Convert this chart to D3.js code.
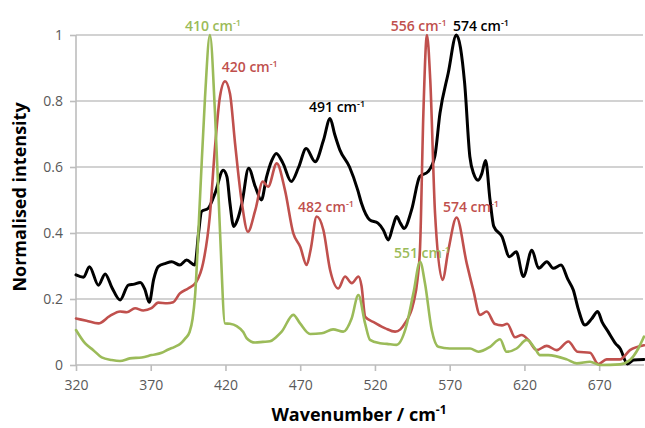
<!DOCTYPE html>
<html>
<head>
<meta charset="utf-8">
<script src="https://cdn.jsdelivr.net/npm/d3@7"></script>
<style>
  html, body { margin: 0; padding: 0; background: #fff; }
  svg { display: block; }
  text { font-family: "Open Sans", "DejaVu Sans", sans-serif; }
</style>
</head>
<body>
<svg id="chart" width="645" height="428"></svg>
<script>
// ---- Data ----
const blackWn = [320,325,329,335,339.5,344,349.5,355,359,363,366,369,372,375,380,384,389.5,394,399.5,402,404,408.5,413,418.5,421,423,425.5,428,431,435.5,440,444,447.5,451,454,458.5,464,469,474,480,485.5,490,493,496.5,503,508.5,511,516.5,522,525.5,529,532,534.5,537,539.5,544.5,550,555.5,560,563.5,569,574.5,580,583.5,586,589,591.5,594,597,599.5,605,610,614.5,619.3,625,629.5,635,639.3,644.5,649,652.7,656,660.5,665,669,672,676,681,684,689,693,700];
const blackVal = [0.273,0.266,0.298,0.242,0.276,0.235,0.197,0.242,0.245,0.25,0.23,0.19,0.26,0.298,0.308,0.313,0.303,0.318,0.303,0.4,0.465,0.475,0.52,0.59,0.57,0.49,0.42,0.44,0.49,0.596,0.54,0.5,0.57,0.62,0.641,0.611,0.556,0.6,0.656,0.616,0.68,0.747,0.7,0.652,0.6,0.53,0.49,0.44,0.43,0.41,0.379,0.42,0.45,0.43,0.414,0.47,0.571,0.586,0.631,0.763,0.884,1.0,0.854,0.631,0.58,0.56,0.58,0.62,0.5,0.42,0.389,0.328,0.343,0.268,0.348,0.293,0.313,0.293,0.303,0.26,0.227,0.17,0.121,0.14,0.162,0.13,0.101,0.065,0.05,0.003,0.015,0.017];

const redWn = [320,327,335,342.5,349.5,354,359.5,365,370.5,375,381,385,389.5,395,400.5,405,409.5,413,416.3,419.7,423,426.4,431,435,440,445,448.5,454.3,459.8,465.4,470,474.3,477,481,485.5,490,495.5,500,504.5,509,511,513.5,520,527,533.5,537,540,545.7,548.5,550.2,552.4,554.8,557,560.2,565.2,569.1,574.6,581.4,585.8,590.3,594.8,600.3,605,608.5,613.7,618.2,622.6,628.2,634.9,641.6,649.4,655.5,663.9,669.4,675,684,690.6,700];
const redVal = [0.141,0.134,0.126,0.148,0.162,0.16,0.172,0.165,0.172,0.189,0.187,0.19,0.217,0.232,0.252,0.308,0.45,0.66,0.813,0.86,0.823,0.672,0.49,0.404,0.47,0.556,0.54,0.611,0.53,0.399,0.358,0.303,0.35,0.45,0.409,0.288,0.232,0.268,0.248,0.268,0.24,0.146,0.128,0.111,0.101,0.108,0.126,0.187,0.26,0.358,0.763,1.0,0.864,0.46,0.258,0.348,0.447,0.308,0.227,0.152,0.162,0.124,0.12,0.125,0.084,0.091,0.076,0.045,0.058,0.045,0.071,0.04,0.037,0.003,0.017,0.017,0.045,0.06];

const greenWn = [320,326,331.6,337.2,343.9,349.4,356,364,370.6,377.3,381.8,386,390,393,396,398,399.6,403,406.3,409.6,413,416.3,419.7,423,427.5,431.9,434.2,439.8,445,449.8,454,457.6,465.4,469.9,476.6,484.4,492,498.8,504.4,508.9,513.4,516.7,523.4,528,534.5,540.5,545.7,550.2,553.5,558,562.4,570,583.6,589.2,597,603.7,608,614.8,621.5,627.1,630.4,636,648.3,655,663.9,670.6,684,690.6,696.2,700];
const greenVal = [0.106,0.066,0.045,0.023,0.015,0.012,0.02,0.023,0.03,0.037,0.047,0.055,0.065,0.08,0.1,0.14,0.207,0.51,0.81,1.0,0.763,0.409,0.126,0.125,0.118,0.1,0.081,0.068,0.07,0.072,0.085,0.101,0.152,0.126,0.094,0.096,0.108,0.101,0.141,0.212,0.126,0.076,0.066,0.064,0.061,0.11,0.217,0.313,0.247,0.106,0.055,0.05,0.05,0.04,0.055,0.078,0.04,0.05,0.076,0.05,0.03,0.03,0.017,0.005,0.01,0,0.002,0.015,0.05,0.086];

const xTicks = [320,370,420,470,520,570,620,670];
const yTicks = [0,0.2,0.4,0.6,0.8,1];
const yTickLabels = ["0","0.2","0.4","0.6","0.8","1"];

// Peak annotations: label number, series, anchor wavenumber & intensity
const labelText   = ["410","420","491","482","556","574","574","551"];
const labelSeries = ["green","red","black","red","red","black","red","green"];
const labelWn     = [392.9,417.5,475.9,468.5,530.5,572.2,565.5,532.7];
const labelVal    = [1.012,0.888,0.767,0.464,1.012,1.012,0.464,0.324];

// ---- Drawing ----
const colors = { black: "#000000", red: "#c0504d", green: "#9bbb59" };
const svg = d3.select("#chart");
const x = d3.scaleLinear().domain([320, 700]).range([76, 644]);
const y = d3.scaleLinear().domain([0, 1]).range([365, 35]);

// gridlines
svg.append("g").selectAll("line").data(yTicks.filter(d => d > 0)).join("line")
  .attr("x1", x(320)).attr("x2", x(700) - 1)
  .attr("y1", d => y(d)).attr("y2", d => y(d))
  .attr("stroke", "#c3c3c3").attr("stroke-width", 1.6);

// y axis
const yAxis = svg.append("g").attr("transform", `translate(${x(320)},0)`)
  .call(d3.axisLeft(y).tickValues(yTicks).tickSize(6).tickPadding(7)
    .tickFormat((d, i) => yTickLabels[i]));
// x axis
const xAxis = svg.append("g").attr("transform", `translate(0,${y(0)})`)
  .call(d3.axisBottom(x).tickValues(xTicks).tickSize(6).tickPadding(9).tickFormat(d3.format("d")));
[yAxis, xAxis].forEach(g => {
  g.select(".domain").attr("stroke", "#bdbdbd").attr("stroke-width", 1.6);
  g.selectAll(".tick line").attr("stroke", "#bdbdbd").attr("stroke-width", 1.6);
  g.selectAll(".tick text").attr("fill", "#595959")
    .style("font-family", '"Open Sans", sans-serif').style("font-size", "14px");
});
xAxis.select(".domain").attr("d", `M${x(320)},0H${x(700)}`);
yAxis.select(".domain").attr("d", `M0,${y(0)}V${y(1)}`);

// lines
const series = [
  { key: "green", wn: greenWn, val: greenVal, w: 2.6 },
  { key: "red", wn: redWn, val: redVal, w: 2.6 },
  { key: "black", wn: blackWn, val: blackVal, w: 3 }
];
const line = d3.line().x(d => x(d[0])).y(d => y(d[1])).curve(d3.curveMonotoneX);
// draw order: black, red, green? reference shows green on top of red near 410
const order = ["black", "red", "green"];
order.forEach(k => {
  const s = series.find(s => s.key === k);
  svg.append("path")
    .datum(s.wn.map((w, i) => [w, s.val[i]]))
    .attr("d", line)
    .attr("fill", "none")
    .attr("stroke", colors[k])
    .attr("stroke-width", s.w)
    .attr("stroke-linejoin", "round")
    .attr("stroke-linecap", "round");
});

// labels
labelText.forEach((t, i) => {
  const tx = svg.append("text")
    .attr("x", x(labelWn[i])).attr("y", y(labelVal[i]))
    .attr("fill", colors[labelSeries[i]])
    .style("font-size", "14px").style("font-weight", 600);
  tx.append("tspan").text(t + " cm");
  tx.append("tspan").attr("dy", "-5").style("font-size", "9px").text("-1");
});

// axis titles
const xt = svg.append("text")
  .attr("x", 359).attr("y", 421)
  .attr("text-anchor", "middle")
  .style("font-size", "18px").style("font-weight", "bold").attr("fill", "#000");
xt.append("tspan").text("Wavenumber / cm");
xt.append("tspan").attr("dy", "-7").style("font-size", "12px").text("-1");

svg.append("text")
  .attr("transform", "translate(26,197) rotate(-90)")
  .attr("text-anchor", "middle")
  .style("font-size", "18px").style("font-weight", "bold").attr("fill", "#000")
  .text("Normalised intensity");
</script>
</body>
</html>
